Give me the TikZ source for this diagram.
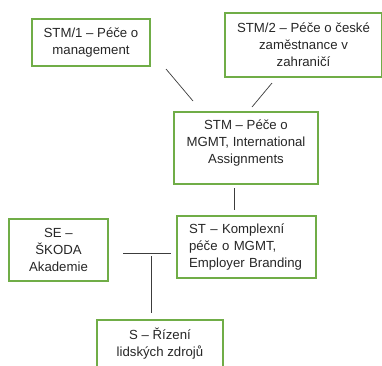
\documentclass[tikz,border=0pt]{standalone}
\usepackage{fontspec}
\setmainfont{Liberation Sans}
\usetikzlibrary{positioning}
\definecolor{boxgreen}{RGB}{112,173,71}
\definecolor{linegray}{RGB}{60,60,60}

\begin{document}
\begin{tikzpicture}[x=1pt, y=-1pt]
    \tikzstyle{every node}=[font=\fontsize{13.2}{17}\selectfont, text=black!85]
    \tikzstyle{unit}=[draw=boxgreen, line width=1.2pt, align=center, inner sep=0pt]
    \tikzstyle{link}=[draw=linegray, line width=0.7pt]
    \useasboundingbox (0,0) rectangle (382,365);
    % boxes
    \node[unit, minimum width=118pt, minimum height=47pt] (stmone) at (91,42.5) {STM/1 -- Péče o\\management};
    \node[unit, minimum width=157pt, minimum height=64pt] (stmtwo) at (303.5,45) {STM/2 -- Péče o české\\zaměstnance v\\zahraničí};
    \node[unit, minimum width=144pt, minimum height=72pt, text depth=12pt] (stm) at (246,148) {STM -- Péče o\\MGMT, International\\Assignments};
    \node[unit, text width=115pt, inner xsep=12pt, align=left, minimum height=62pt] (st) at (246.5,247) {ST -- Komplexní\\péče o MGMT,\\Employer Branding};
    \node[unit, minimum width=99pt, minimum height=62pt] (se) at (58.5,250) {SE --\\ŠKODA\\Akademie};
    \node[unit, minimum width=126pt, minimum height=48pt] (s) at (160,344) {S -- Řízení\\lidských zdrojů};
    % connectors
    \coordinate (aone) at (166,69);
    \coordinate (bone) at (193,101);
    \coordinate (atwo) at (272,83);
    \coordinate (btwo) at (252,107);
    \coordinate (amid) at (234,188);
    \coordinate (bmid) at (234,210);
    \coordinate (aleft) at (123,253);
    \coordinate (bleft) at (171,253);
    \coordinate (adown) at (151,256);
    \coordinate (bdown) at (151,313);
    \draw[link] (aone) -- (bone);
    \draw[link] (atwo) -- (btwo);
    \draw[link] (amid) -- (bmid);
    \draw[link] (aleft) -- (bleft);
    \draw[link] (adown) -- (bdown);
\end{tikzpicture}
\end{document}
